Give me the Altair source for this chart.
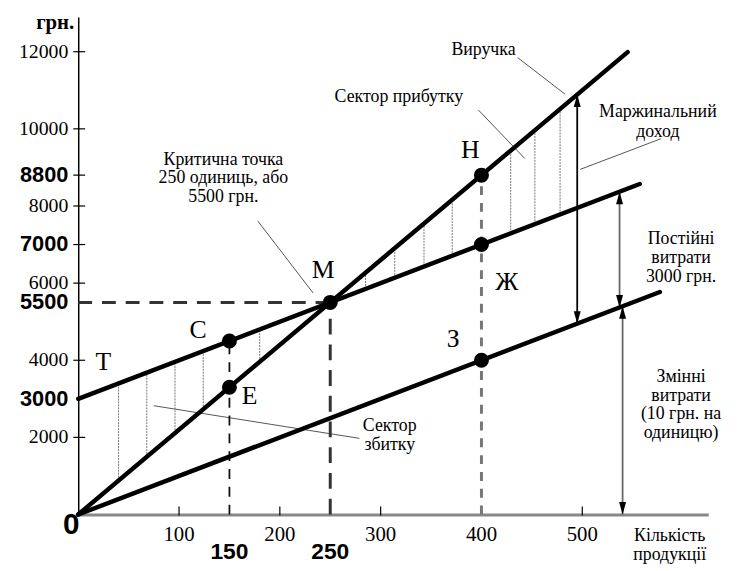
import altair as alt
import pandas as pd

W, H = 637, 503
XMAX, YMAX = 625, 12900

# --- main lines (units, грн.) ---
rev_x = [0, 545]
rev_y = [0, 11990]
tot_x = [0, 557]
tot_y = [3000, 8570]
var_x = [0, 577]
var_y = [0, 5770]

# --- key points ---
pt_x = [150, 150, 250, 400, 400, 400]
pt_y = [4500, 3300, 5500, 8800, 7000, 4000]

# --- point letters ---
let_txt = ["T", "C", "E", "M", "H", "Ж", "З"]
let_x = [25, 119, 170, 243, 389, 425, 372]
let_y = [3949, 4795, 3077, 6333, 9462, 6026, 4538]

# --- hatching (loss / profit sectors) ---
loss_x = [40, 68, 96, 124, 180]
loss_lo = [880, 1496, 2112, 2728, 3960]
loss_hi = [3400, 3680, 3960, 4240, 4800]
prof_x = [285, 314, 343, 371, 429, 453, 478]
prof_lo = [5850, 6140, 6430, 6710, 7290, 7530, 7780]
prof_hi = [6270, 6908, 7546, 8162, 9438, 9966, 10516]

# --- dashed guides ---
hdash_x = [0, 250]
hdash_y = [5500, 5500]
vdash_x = [150, 250, 400]
vdash_top = [4500, 5500, 8800]

# --- double arrows ---
arr_x = [495, 537, 540]
arr_lo = [4950, 5370, 0]
arr_hi = [10890, 8370, 5400]
arr_col = ["#000000", "#666666", "#666666"]

# --- leader lines ---
ld_x1 = [436, 397, 578, 178, 75]
ld_y1 = [11846, 10487, 9744, 7615, 2821]
ld_x2 = [483, 443, 498, 233, 279]
ld_y2 = [10897, 9231, 8949, 5744, 1974]

# --- annotation texts ---
ann_txt = ["Виручка", "Сектор прибутку", "Маржинальний", "доход",
           "Критична точка", "250 одиниць, або", "5500 грн.",
           "Сектор", "збитку",
           "Постійні", "витрати", "3000 грн.",
           "Змінні", "витрати", "(10 грн. на", "одиницю)"]
ann_x = [402, 318, 575, 575,
         144, 144, 144,
         309, 309,
         598, 598, 598,
         598, 598, 598, 598]
ann_y = [12051, 10820, 10436, 9923,
         9200, 8720, 8240,
         2282, 1795,
         7150, 6660, 6170,
         3560, 3080, 2600, 2120]

# --- axis ticks and labels ---
y_ticks = [12000, 10000, 8800, 8000, 7000, 6000, 4000, 2000]
y_lab_norm = [12000, 10000, 8000, 6000, 4000, 2000]
y_lab_bold = [8800, 7000, 5500, 3000]
x_ticks = [100, 200, 300, 500]
x_lab_norm = [100, 200, 300, 400, 500]
x_lab_bold = [150, 250]
x_title = ["Кількість", "продукції"]

SERIF = "Liberation Serif"
SANS = "Liberation Sans"

xs = alt.Scale(domain=[0, XMAX], nice=False, zero=False)
ys = alt.Scale(domain=[0, YMAX], nice=False, zero=False)
X = lambda f: alt.X(f, type="quantitative", scale=xs,
                    axis=alt.Axis(domain=True, domainColor="#888888", domainWidth=3,
                                  ticks=False, labels=False, grid=False, title=None))
Y = lambda f: alt.Y(f, type="quantitative", scale=ys,
                    axis=alt.Axis(domain=True, domainColor="#000000", domainWidth=1.5,
                                  ticks=False, labels=False, grid=False, title=None))

def seg(xa, ya, xb, yb):
    return pd.DataFrame({"x": xa, "y": ya, "x2": xb, "y2": yb})

# main lines
lines_df = pd.DataFrame({
    "x": rev_x + tot_x + var_x,
    "y": rev_y + tot_y + var_y,
    "s": ["rev"] * 2 + ["tot"] * 2 + ["var"] * 2,
})
lines = alt.Chart(lines_df).mark_line(color="black", strokeWidth=4.5, strokeCap="round").encode(
    x=X("x"), y=Y("y"), detail="s:N")

# hatching
hatch_df = pd.DataFrame({"x": loss_x + prof_x, "y": loss_lo + prof_lo, "y2": loss_hi + prof_hi})
hatch = alt.Chart(hatch_df).mark_rule(color="#777777", strokeWidth=1, strokeDash=[2, 1]).encode(
    x=X("x"), y=Y("y"), y2="y2")

# dashed guides
hd = alt.Chart(pd.DataFrame({"x": [hdash_x[0]], "x2": [hdash_x[1]], "y": [hdash_y[0]]})).mark_rule(
    color="#333333", strokeWidth=3, strokeDash=[14, 10]).encode(x=X("x"), x2="x2", y=Y("y"))
vd_df = pd.DataFrame({"x": vdash_x, "y": [0, 0, 0], "y2": vdash_top})
vd150 = alt.Chart(vd_df.iloc[[0]]).mark_rule(color="#111111", strokeWidth=1.8, strokeDash=[10, 8]).encode(
    x=X("x"), y=Y("y"), y2="y2")
vd250 = alt.Chart(vd_df.iloc[[1]]).mark_rule(color="#333333", strokeWidth=3, strokeDash=[16, 10]).encode(
    x=X("x"), y=Y("y"), y2="y2")
vd400 = alt.Chart(vd_df.iloc[[2]]).mark_rule(color="#777777", strokeWidth=3, strokeDash=[9, 8]).encode(
    x=X("x"), y=Y("y"), y2="y2")

# leaders
lead = alt.Chart(seg(ld_x1, ld_y1, ld_x2, ld_y2)).mark_rule(color="#555555", strokeWidth=1).encode(
    x=X("x"), y=Y("y"), x2="x2", y2="y2")

# arrows
arr_df = pd.DataFrame({"x": arr_x, "y": arr_lo, "y2": arr_hi, "c": arr_col})
arr_lines = alt.Chart(arr_df).mark_rule(strokeWidth=1.8).encode(
    x=X("x"), y=Y("y"), y2="y2", color=alt.Color("c:N", scale=None))
UP = "M0,0L0.42,1.5L-0.42,1.5Z"
DOWN = "M0,0L0.42,-1.5L-0.42,-1.5Z"
heads_up = alt.Chart(arr_df).mark_point(shape=UP, filled=True, color="black", size=280, opacity=1).encode(
    x=X("x"), y=Y("y2"))
heads_dn = alt.Chart(arr_df).mark_point(shape=DOWN, filled=True, color="black", size=280, opacity=1).encode(
    x=X("x"), y=Y("y"))

# points
pts = alt.Chart(pd.DataFrame({"x": pt_x, "y": pt_y})).mark_circle(color="black", size=230, opacity=1).encode(
    x=X("x"), y=Y("y"))

# letters
letters = alt.Chart(pd.DataFrame({"x": let_x, "y": let_y, "t": let_txt})).mark_text(
    font=SERIF, fontSize=26, color="black", align="center", baseline="middle").encode(
    x=X("x"), y=Y("y"), text="t:N")

# annotations
ann = alt.Chart(pd.DataFrame({"x": ann_x, "y": ann_y, "t": ann_txt})).mark_text(
    font=SERIF, fontSize=18, color="black", align="center", baseline="middle").encode(
    x=X("x"), y=Y("y"), text="t:N")

# axis ticks
yt = alt.Chart(pd.DataFrame({"v": y_ticks})).mark_rule(color="black", strokeWidth=1.2).encode(
    x=alt.value(-5), x2=alt.value(7), y=Y("v"))
xt = alt.Chart(pd.DataFrame({"v": x_ticks})).mark_rule(color="black", strokeWidth=1.2).encode(
    x=X("v"), y=alt.value(H - 8), y2=alt.value(H + 1))

# axis labels
yl_n = alt.Chart(pd.DataFrame({"v": y_lab_norm})).mark_text(
    font=SERIF, fontSize=20, align="right", baseline="middle", dx=-10).encode(
    x=alt.value(0), y=Y("v"), text=alt.Text("v:Q", format="d"))
yl_b = alt.Chart(pd.DataFrame({"v": y_lab_bold})).mark_text(
    font=SANS, fontSize=22, fontWeight="bold", align="right", baseline="middle", dx=-10).encode(
    x=alt.value(0), y=Y("v"), text=alt.Text("v:Q", format="d"))
xl_n = alt.Chart(pd.DataFrame({"v": x_lab_norm})).mark_text(
    font=SERIF, fontSize=21, align="center", baseline="middle").encode(
    x=X("v"), y=alt.value(H + 21), text=alt.Text("v:Q", format="d"))
xl_b = alt.Chart(pd.DataFrame({"v": x_lab_bold})).mark_text(
    font=SANS, fontSize=23, fontWeight="bold", align="center", baseline="middle").encode(
    x=X("v"), y=alt.value(H + 38), text=alt.Text("v:Q", format="d"))
zero = alt.Chart(pd.DataFrame({"t": ["0"]})).mark_text(
    font=SANS, fontSize=30, fontWeight="bold", align="center", baseline="middle").encode(
    x=alt.value(-7), y=alt.value(H + 11), text="t:N")
unit = alt.Chart(pd.DataFrame({"t": ["грн."]})).mark_text(
    font=SERIF, fontSize=21, fontWeight="bold", align="right", baseline="middle").encode(
    x=alt.value(-4), y=alt.value(6), text="t:N")
xt1 = alt.Chart(pd.DataFrame({"t": [x_title[0]]})).mark_text(
    font=SERIF, fontSize=18, align="center", baseline="middle").encode(
    x=alt.value(598), y=alt.value(H + 22), text="t:N")
xt2 = alt.Chart(pd.DataFrame({"t": [x_title[1]]})).mark_text(
    font=SERIF, fontSize=18, align="center", baseline="middle").encode(
    x=alt.value(598), y=alt.value(H + 41), text="t:N")

chart = alt.layer(
    hatch, lead, hd, vd150, vd250, vd400, arr_lines, heads_up, heads_dn,
    lines, pts, letters, ann, yt, xt, yl_n, yl_b, xl_n, xl_b, zero, unit, xt1, xt2
).properties(
    width=W, height=H,
    autosize=alt.AutoSizeParams(type="none"),
    padding={"left": 71, "top": 6, "right": 25, "bottom": 54},
).configure_view(stroke=None)

chart.save("out.html", embed_options={"renderer": "svg", "actions": False})
